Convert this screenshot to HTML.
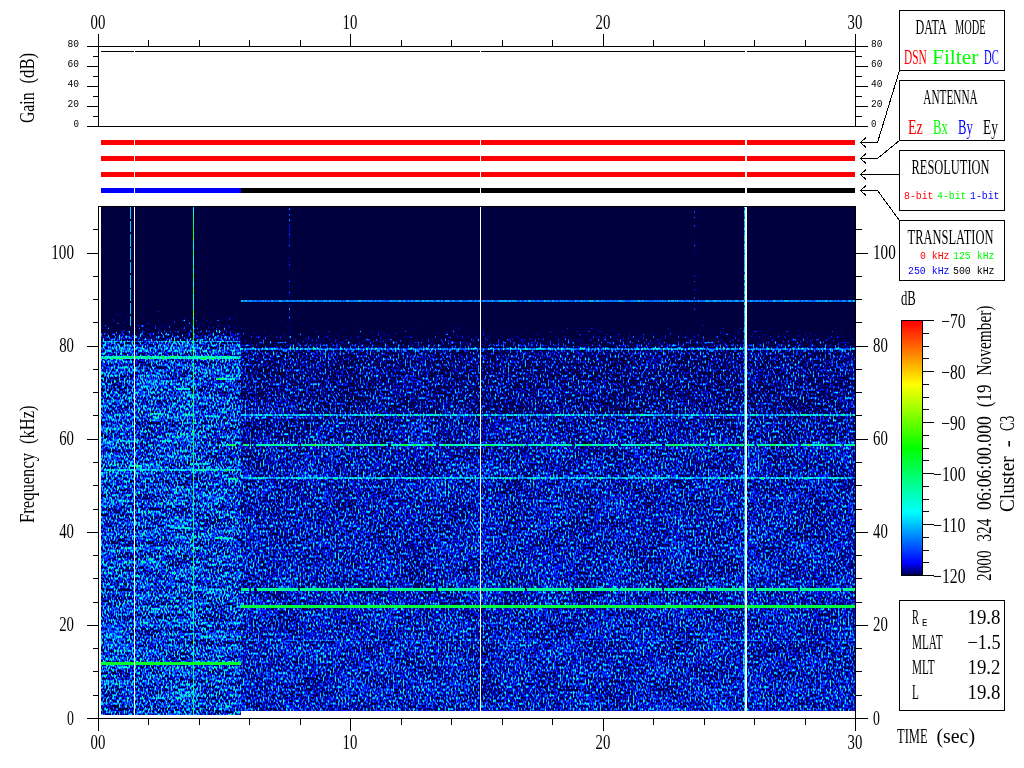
<!DOCTYPE html>
<html><head><meta charset="utf-8"><title>Cluster C3 WBD spectrogram</title>
<style>html,body{margin:0;padding:0;background:#fff}svg{display:block}.s{font-family:"Liberation Serif", serif;font-size:20px;fill:#000}.m{font-family:"Liberation Mono", monospace;font-size:10.5px;fill:#000}.r{fill:#f00}.g{fill:#0f0}.b{fill:#00f}</style></head><body>
<svg width="1024" height="768" viewBox="0 0 1024 768">
<defs>
<filter id="nl" x="0" y="0" width="1" height="1" color-interpolation-filters="sRGB">
<feTurbulence type="fractalNoise" baseFrequency="0.62 0.36" numOctaves="1" seed="7" result="n"/>
<feColorMatrix in="n" type="matrix" values="1 0 0 0 0  1 0 0 0 0  1 0 0 0 0  0 0 0 0 1" result="n1"/>
<feComponentTransfer in="n1" result="na"><feFuncR type="gamma" amplitude="1" exponent="2.5" offset="0"/><feFuncG type="gamma" amplitude="1" exponent="2.5" offset="0"/><feFuncB type="gamma" amplitude="1" exponent="2.5" offset="0"/></feComponentTransfer>
<feTurbulence type="fractalNoise" baseFrequency="0.03 0.15" numOctaves="2" seed="18" result="m"/>
<feColorMatrix in="m" type="matrix" values="0.22 0 0 0 0.09  0.22 0 0 0 0.09  0.22 0 0 0 0.09  0 0 0 0 1" result="nb"/>
<feComposite in="na" in2="nb" operator="arithmetic" k1="0" k2="1" k3="1" k4="0" result="nn"/>
<feComposite in="nn" in2="SourceGraphic" operator="arithmetic" k1="0" k2="1" k3="1" k4="-0.9268" result="v"/>
<feComponentTransfer in="v"><feFuncR type="table" tableValues="0.000 0.000 0.000 0.000 0.000 0.000 0.000 0.000 0.000 0.000 0.000 0.000 0.000 0.000 0.000 0.000 0.000 0.000 0.000 0.000 0.000 0.000 0.000 0.000 0.000 0.000 0.000 0.000 0.000 0.000 0.000 0.000 0.000 0.000 0.000 0.000 0.000 0.000 0.000 0.000 0.000 0.050 0.100 0.150 0.200 0.250 0.300 0.350 0.400 0.450 0.500 0.550 0.600 0.650 0.700 0.750 0.800 0.850 0.900 0.950 1.000 1.000 1.000 1.000 1.000 1.000 1.000 1.000 1.000 1.000 1.000 1.000 1.000 1.000 1.000 1.000 1.000 1.000 1.000 1.000 1.000"/><feFuncG type="table" tableValues="0.000 0.000 0.000 0.000 0.000 0.062 0.125 0.187 0.250 0.312 0.375 0.438 0.500 0.562 0.625 0.688 0.750 0.812 0.875 0.938 1.000 1.000 1.000 1.000 1.000 1.000 1.000 1.000 1.000 1.000 1.000 1.000 1.000 1.000 1.000 1.000 1.000 1.000 1.000 1.000 1.000 1.000 1.000 1.000 1.000 1.000 1.000 1.000 1.000 1.000 1.000 1.000 1.000 1.000 1.000 1.000 1.000 1.000 1.000 1.000 1.000 0.950 0.900 0.850 0.800 0.750 0.700 0.650 0.600 0.550 0.500 0.450 0.400 0.350 0.300 0.250 0.200 0.150 0.100 0.050 0.000"/><feFuncB type="table" tableValues="0.250 0.438 0.625 0.812 1.000 1.000 1.000 1.000 1.000 1.000 1.000 1.000 1.000 1.000 1.000 1.000 1.000 1.000 1.000 1.000 1.000 0.950 0.900 0.850 0.800 0.750 0.700 0.650 0.600 0.550 0.500 0.450 0.400 0.350 0.300 0.250 0.200 0.150 0.100 0.050 0.000 0.000 0.000 0.000 0.000 0.000 0.000 0.000 0.000 0.000 0.000 0.000 0.000 0.000 0.000 0.000 0.000 0.000 0.000 0.000 0.000 0.000 0.000 0.000 0.000 0.000 0.000 0.000 0.000 0.000 0.000 0.000 0.000 0.000 0.000 0.000 0.000 0.000 0.000 0.000 0.000"/></feComponentTransfer>
</filter>
<filter id="nr" x="0" y="0" width="1" height="1" color-interpolation-filters="sRGB">
<feTurbulence type="fractalNoise" baseFrequency="0.6 0.36" numOctaves="1" seed="3" result="n"/>
<feColorMatrix in="n" type="matrix" values="1 0 0 0 0  1 0 0 0 0  1 0 0 0 0  0 0 0 0 1" result="n1"/>
<feComponentTransfer in="n1" result="na"><feFuncR type="gamma" amplitude="0.78" exponent="2.5" offset="0"/><feFuncG type="gamma" amplitude="0.78" exponent="2.5" offset="0"/><feFuncB type="gamma" amplitude="0.78" exponent="2.5" offset="0"/></feComponentTransfer>
<feTurbulence type="fractalNoise" baseFrequency="0.03 0.05" numOctaves="2" seed="14" result="m"/>
<feColorMatrix in="m" type="matrix" values="0.1 0 0 0 0.15  0.1 0 0 0 0.15  0.1 0 0 0 0.15  0 0 0 0 1" result="nb"/>
<feComposite in="na" in2="nb" operator="arithmetic" k1="0" k2="1" k3="1" k4="0" result="nn"/>
<feComposite in="nn" in2="SourceGraphic" operator="arithmetic" k1="0" k2="1" k3="1" k4="-0.8879" result="v"/>
<feComponentTransfer in="v"><feFuncR type="table" tableValues="0.000 0.000 0.000 0.000 0.000 0.000 0.000 0.000 0.000 0.000 0.000 0.000 0.000 0.000 0.000 0.000 0.000 0.000 0.000 0.000 0.000 0.000 0.000 0.000 0.000 0.000 0.000 0.000 0.000 0.000 0.000 0.000 0.000 0.000 0.000 0.000 0.000 0.000 0.000 0.000 0.000 0.050 0.100 0.150 0.200 0.250 0.300 0.350 0.400 0.450 0.500 0.550 0.600 0.650 0.700 0.750 0.800 0.850 0.900 0.950 1.000 1.000 1.000 1.000 1.000 1.000 1.000 1.000 1.000 1.000 1.000 1.000 1.000 1.000 1.000 1.000 1.000 1.000 1.000 1.000 1.000"/><feFuncG type="table" tableValues="0.000 0.000 0.000 0.000 0.000 0.062 0.125 0.187 0.250 0.312 0.375 0.438 0.500 0.562 0.625 0.688 0.750 0.812 0.875 0.938 1.000 1.000 1.000 1.000 1.000 1.000 1.000 1.000 1.000 1.000 1.000 1.000 1.000 1.000 1.000 1.000 1.000 1.000 1.000 1.000 1.000 1.000 1.000 1.000 1.000 1.000 1.000 1.000 1.000 1.000 1.000 1.000 1.000 1.000 1.000 1.000 1.000 1.000 1.000 1.000 1.000 0.950 0.900 0.850 0.800 0.750 0.700 0.650 0.600 0.550 0.500 0.450 0.400 0.350 0.300 0.250 0.200 0.150 0.100 0.050 0.000"/><feFuncB type="table" tableValues="0.250 0.438 0.625 0.812 1.000 1.000 1.000 1.000 1.000 1.000 1.000 1.000 1.000 1.000 1.000 1.000 1.000 1.000 1.000 1.000 1.000 0.950 0.900 0.850 0.800 0.750 0.700 0.650 0.600 0.550 0.500 0.450 0.400 0.350 0.300 0.250 0.200 0.150 0.100 0.050 0.000 0.000 0.000 0.000 0.000 0.000 0.000 0.000 0.000 0.000 0.000 0.000 0.000 0.000 0.000 0.000 0.000 0.000 0.000 0.000 0.000 0.000 0.000 0.000 0.000 0.000 0.000 0.000 0.000 0.000 0.000 0.000 0.000 0.000 0.000 0.000 0.000 0.000 0.000 0.000 0.000"/></feComponentTransfer>
</filter>
<linearGradient id="gl" gradientUnits="userSpaceOnUse" x1="0" y1="300" x2="0" y2="344"><stop offset="0" stop-color="#171717"/><stop offset="1" stop-color="#a1a1a1"/></linearGradient>
<linearGradient id="gr" gradientUnits="userSpaceOnUse" x1="0" y1="314" x2="0" y2="349"><stop offset="0" stop-color="#303030"/><stop offset="1" stop-color="#8f8f8f"/></linearGradient>
<linearGradient id="gr2" gradientUnits="userSpaceOnUse" x1="0" y1="349" x2="0" y2="711"><stop offset="0.0000" stop-color="#8c8c8c"/><stop offset="0.1768" stop-color="#8f8f8f"/><stop offset="0.1878" stop-color="#949494"/><stop offset="0.3619" stop-color="#989898"/><stop offset="1.0000" stop-color="#9a9a9a"/></linearGradient>
<linearGradient id="cb" gradientUnits="userSpaceOnUse" x1="0" y1="576" x2="0" y2="321"><stop offset="0" stop-color="#000040"/><stop offset="0.025" stop-color="#00009f"/><stop offset="0.05" stop-color="#0000ff"/><stop offset="0.15" stop-color="#007fff"/><stop offset="0.25" stop-color="#00ffff"/><stop offset="0.375" stop-color="#00ff80"/><stop offset="0.5" stop-color="#00ff00"/><stop offset="0.625" stop-color="#80ff00"/><stop offset="0.75" stop-color="#ffff00"/><stop offset="0.875" stop-color="#ff8000"/><stop offset="1" stop-color="#ff0000"/></linearGradient>
</defs>
<g filter="url(#nl)">
<rect x="101" y="207" width="140" height="508" fill="#000000"/>
<rect x="101" y="300" width="140" height="44" fill="url(#gl)"/>
<rect x="101" y="344" width="140" height="371" fill="#a1a1a1"/>
<rect x="101" y="341" width="140" height="1" fill="#b8b8b8"/>
<rect x="101" y="356" width="140" height="3" fill="#d9d9d9"/>
<rect x="101" y="469" width="140" height="2" fill="#c2c2c2"/>
<rect x="193" y="207" width="1" height="280" fill="#e8e8e8"/>
<rect x="193" y="487" width="1" height="228" fill="#dbdbdb"/>
<rect x="216" y="378" width="18" height="2" fill="#d9d9d9"/>
<rect x="176" y="388" width="14" height="2" fill="#d9d9d9"/>
<rect x="150" y="413" width="14" height="2" fill="#c9c9c9"/>
<rect x="226" y="444" width="10" height="2" fill="#d9d9d9"/>
<rect x="120" y="440" width="20" height="2" fill="#bfbfbf"/>
<rect x="190" y="463" width="20" height="2" fill="#cccccc"/>
<rect x="170" y="527" width="20" height="2" fill="#c9c9c9"/>
<rect x="215" y="537" width="18" height="2" fill="#cfcfcf"/>
<rect x="130" y="465" width="12" height="2" fill="#cfcfcf"/>
<rect x="205" y="415" width="14" height="2" fill="#c4c4c4"/>
<rect x="160" y="440" width="12" height="2" fill="#c4c4c4"/>
<rect x="228" y="478" width="10" height="2" fill="#cfcfcf"/>
</g>
<g filter="url(#nr)">
<rect x="241" y="207" width="614" height="504" fill="#000000"/>
<rect x="241" y="314" width="614" height="35" fill="url(#gr)"/>
<rect x="241" y="349" width="614" height="362" fill="url(#gr2)"/>
<rect x="241" y="300" width="614" height="2" fill="#b0b0b0"/>
<rect x="241" y="348" width="614" height="2" fill="#b3b3b3"/>
<rect x="241" y="414" width="614" height="2" fill="#bfbfbf"/>
<rect x="241" y="477" width="614" height="2" fill="#bfbfbf"/>
<rect x="243" y="444" width="6" height="2" fill="#dedede"/>
<rect x="252" y="444" width="1" height="2" fill="#dedede"/>
<rect x="256" y="444" width="42" height="2" fill="#dedede"/>
<rect x="301" y="444" width="42" height="2" fill="#dedede"/>
<rect x="346" y="444" width="42" height="2" fill="#dedede"/>
<rect x="391" y="444" width="45" height="2" fill="#dedede"/>
<rect x="439" y="444" width="86" height="2" fill="#dedede"/>
<rect x="528" y="444" width="44" height="2" fill="#dedede"/>
<rect x="575" y="444" width="43" height="2" fill="#dedede"/>
<rect x="621" y="444" width="41" height="2" fill="#dedede"/>
<rect x="665" y="444" width="41" height="2" fill="#dedede"/>
<rect x="709" y="444" width="45" height="2" fill="#dedede"/>
<rect x="757" y="444" width="41" height="2" fill="#dedede"/>
<rect x="801" y="444" width="40" height="2" fill="#dedede"/>
<rect x="844" y="444" width="11" height="2" fill="#dedede"/>
<rect x="241" y="640" width="614" height="1" fill="#a6a6a6"/>
<rect x="289" y="207" width="1" height="140" fill="#919191"/>
<rect x="694" y="207" width="1" height="140" fill="#808080"/>
<rect x="744" y="207" width="1" height="504" fill="#bfbfbf"/>
</g>
<g shape-rendering="crispEdges">
<rect x="241" y="588" width="8" height="3" fill="#00ff8f"/>
<rect x="251" y="588" width="3" height="3" fill="#00ff8f"/>
<rect x="257" y="588" width="41" height="3" fill="#00ff8f"/>
<rect x="300" y="588" width="43" height="3" fill="#00ff8f"/>
<rect x="345" y="588" width="43" height="3" fill="#00ff8f"/>
<rect x="390" y="588" width="46" height="3" fill="#00ff8f"/>
<rect x="438" y="588" width="87" height="3" fill="#00ff8f"/>
<rect x="527" y="588" width="45" height="3" fill="#00ff8f"/>
<rect x="574" y="588" width="44" height="3" fill="#00ff8f"/>
<rect x="620" y="588" width="42" height="3" fill="#00ff8f"/>
<rect x="664" y="588" width="42" height="3" fill="#00ff8f"/>
<rect x="708" y="588" width="46" height="3" fill="#00ff8f"/>
<rect x="756" y="588" width="42" height="3" fill="#00ff8f"/>
<rect x="800" y="588" width="41" height="3" fill="#00ff8f"/>
<rect x="843" y="588" width="12" height="3" fill="#00ff8f"/>
<rect x="241" y="605" width="614" height="3" fill="#00ff3d"/>
<rect x="241" y="300" width="614" height="2" fill="#007fff" opacity="0.55"/>
<rect x="101" y="662" width="140" height="3" fill="#00ff29"/>
<path d="M130.5 207V326" stroke="#00ccff" stroke-width="1" stroke-dasharray="12 2 11 2 13 1"/>
<rect x="134" y="207" width="1" height="508" fill="#fff"/>
<rect x="480" y="207" width="1" height="504" fill="#fff"/>
<rect x="745" y="207" width="2" height="504" fill="#fff"/>
</g>
<g shape-rendering="crispEdges">
<rect x="101" y="140" width="754" height="5" fill="#f00"/>
<rect x="101" y="156" width="754" height="5" fill="#f00"/>
<rect x="101" y="172" width="754" height="5" fill="#f00"/>
<rect x="101" y="188" width="140" height="5" fill="#00f"/>
<rect x="241" y="188" width="614" height="5" fill="#000"/>
<rect x="101" y="51" width="754" height="1" fill="#000"/>
<rect x="134" y="50" width="1" height="144" fill="#fff"/>
<rect x="480" y="50" width="1" height="144" fill="#fff"/>
<rect x="745" y="50" width="2" height="144" fill="#fff"/>
</g>
<rect x="902" y="321" width="20" height="255" fill="url(#cb)" shape-rendering="crispEdges"/>
<path d="M98.5 34V126.5 M855.5 34V126.5 M87 46.5H868 M87 126.5H868 M98.5 34V46 M148.5 40V46 M199.5 40V46 M249.5 40V46 M300.5 40V46 M350.5 34V46 M401.5 40V46 M451.5 40V46 M502.5 40V46 M552.5 40V46 M603.5 34V46 M653.5 40V46 M704.5 40V46 M754.5 40V46 M805.5 40V46 M855.5 34V46 M87 46.5H98 M856 46.5H868 M93 56.5H98 M856 56.5H862 M87 66.5H98 M856 66.5H868 M93 76.5H98 M856 76.5H862 M87 86.5H98 M856 86.5H868 M93 96.5H98 M856 96.5H862 M87 106.5H98 M856 106.5H868 M93 116.5H98 M856 116.5H862 M87 126.5H98 M856 126.5H868 M98.5 206V731 M855.5 206V731 M87 718.5H868 M98 206.5H856 M98.5 719V731 M148.5 719V725 M199.5 719V725 M249.5 719V725 M300.5 719V725 M350.5 719V731 M401.5 719V725 M451.5 719V725 M502.5 719V725 M552.5 719V725 M603.5 719V731 M653.5 719V725 M704.5 719V725 M754.5 719V725 M805.5 719V725 M855.5 719V731 M87 718.5H98 M856 718.5H868 M93 695.5H98 M856 695.5H862 M93 671.5H98 M856 671.5H862 M93 648.5H98 M856 648.5H862 M87 625.5H98 M856 625.5H868 M93 602.5H98 M856 602.5H862 M93 578.5H98 M856 578.5H862 M93 555.5H98 M856 555.5H862 M87 532.5H98 M856 532.5H868 M93 509.5H98 M856 509.5H862 M93 485.5H98 M856 485.5H862 M93 462.5H98 M856 462.5H862 M87 439.5H98 M856 439.5H868 M93 415.5H98 M856 415.5H862 M93 392.5H98 M856 392.5H862 M93 369.5H98 M856 369.5H862 M87 346.5H98 M856 346.5H868 M93 322.5H98 M856 322.5H862 M93 299.5H98 M856 299.5H862 M93 276.5H98 M856 276.5H862 M87 253.5H98 M856 253.5H868 M93 229.5H98 M856 229.5H862 M901.5 320V576 M922.5 320V576 M901 320.5H934 M901 575.5H934 M923 320.5H934 M923 333.5H929 M923 346.5H929 M923 358.5H929 M923 371.5H934 M923 384.5H929 M923 397.5H929 M923 409.5H929 M923 422.5H934 M923 435.5H929 M923 448.5H929 M923 460.5H929 M923 473.5H934 M923 486.5H929 M923 499.5H929 M923 511.5H929 M923 524.5H934 M923 537.5H929 M923 550.5H929 M923 562.5H929 M923 575.5H934 M899.5 10.5H1004.5V70.5H899.5Z M899.5 80.5H1004.5V140.5H899.5Z M899.5 150.5H1004.5V210.5H899.5Z M899.5 220.5H1004.5V280.5H899.5Z M899.5 600.5H1004.5V710.5H899.5Z" fill="none" stroke="#000" stroke-width="1" shape-rendering="crispEdges"/>
<path d="M866 137.5L860.5 142.5L866 147.5 M860.5 142.5H877.5 M866 153.5L860.5 158.5L866 163.5 M860.5 158.5H877.5 M866 169.5L860.5 174.5L866 179.5 M860.5 174.5H877.5 M866 185.5L860.5 190.5L866 195.5 M860.5 190.5H877.5 M877.5 142.5L899.5 70.5 M877.5 158.5L899.5 140.5 M877.5 174.5H899.5 M877.5 190.5L899.5 220.5" fill="none" stroke="#000" stroke-width="1" shape-rendering="crispEdges"/>
<text y="29" class="s"><tspan x="90.6" textLength="14.8" lengthAdjust="spacingAndGlyphs">00</tspan></text>
<text y="749" class="s"><tspan x="90.6" textLength="14.8" lengthAdjust="spacingAndGlyphs">00</tspan></text>
<text y="29" class="s"><tspan x="342.6" textLength="14.8" lengthAdjust="spacingAndGlyphs">10</tspan></text>
<text y="749" class="s"><tspan x="342.6" textLength="14.8" lengthAdjust="spacingAndGlyphs">10</tspan></text>
<text y="29" class="s"><tspan x="595.6" textLength="14.8" lengthAdjust="spacingAndGlyphs">20</tspan></text>
<text y="749" class="s"><tspan x="595.6" textLength="14.8" lengthAdjust="spacingAndGlyphs">20</tspan></text>
<text y="29" class="s"><tspan x="847.6" textLength="14.8" lengthAdjust="spacingAndGlyphs">30</tspan></text>
<text y="749" class="s"><tspan x="847.6" textLength="14.8" lengthAdjust="spacingAndGlyphs">30</tspan></text>
<text x="67.5" y="47" class="m" textLength="11.5" lengthAdjust="spacingAndGlyphs">80</text>
<text x="871" y="47" class="m" textLength="11.5" lengthAdjust="spacingAndGlyphs">80</text>
<text x="67.5" y="67" class="m" textLength="11.5" lengthAdjust="spacingAndGlyphs">60</text>
<text x="871" y="67" class="m" textLength="11.5" lengthAdjust="spacingAndGlyphs">60</text>
<text x="67.5" y="87" class="m" textLength="11.5" lengthAdjust="spacingAndGlyphs">40</text>
<text x="871" y="87" class="m" textLength="11.5" lengthAdjust="spacingAndGlyphs">40</text>
<text x="67.5" y="107" class="m" textLength="11.5" lengthAdjust="spacingAndGlyphs">20</text>
<text x="871" y="107" class="m" textLength="11.5" lengthAdjust="spacingAndGlyphs">20</text>
<text x="73.5" y="127" class="m" textLength="5.5" lengthAdjust="spacingAndGlyphs">0</text>
<text x="871" y="127" class="m" textLength="5.5" lengthAdjust="spacingAndGlyphs">0</text>
<text y="724.5" class="s"><tspan x="67.1" textLength="6.9" lengthAdjust="spacingAndGlyphs">0</tspan></text>
<text y="724.5" class="s"><tspan x="873" textLength="6.9" lengthAdjust="spacingAndGlyphs">0</tspan></text>
<text y="630.5" class="s"><tspan x="59.2" textLength="14.8" lengthAdjust="spacingAndGlyphs">20</tspan></text>
<text y="630.5" class="s"><tspan x="873" textLength="14.8" lengthAdjust="spacingAndGlyphs">20</tspan></text>
<text y="537.5" class="s"><tspan x="59.2" textLength="14.8" lengthAdjust="spacingAndGlyphs">40</tspan></text>
<text y="537.5" class="s"><tspan x="873" textLength="14.8" lengthAdjust="spacingAndGlyphs">40</tspan></text>
<text y="444.5" class="s"><tspan x="59.2" textLength="14.8" lengthAdjust="spacingAndGlyphs">60</tspan></text>
<text y="444.5" class="s"><tspan x="873" textLength="14.8" lengthAdjust="spacingAndGlyphs">60</tspan></text>
<text y="351.5" class="s"><tspan x="59.2" textLength="14.8" lengthAdjust="spacingAndGlyphs">80</tspan></text>
<text y="351.5" class="s"><tspan x="873" textLength="14.8" lengthAdjust="spacingAndGlyphs">80</tspan></text>
<text y="258.5" class="s"><tspan x="51.3" textLength="22.7" lengthAdjust="spacingAndGlyphs">100</tspan></text>
<text y="258.5" class="s"><tspan x="873" textLength="22.7" lengthAdjust="spacingAndGlyphs">100</tspan></text>
<text transform="translate(34 123) rotate(-90)" y="0" class="s"><tspan x="0" textLength="30.6" lengthAdjust="spacingAndGlyphs">Gain</tspan> <tspan x="39.5" textLength="30.6" lengthAdjust="spacingAndGlyphs">(dB)</tspan></text>
<text transform="translate(34 523) rotate(-90)" y="0" class="s"><tspan x="0" textLength="70.1" lengthAdjust="spacingAndGlyphs">Frequency</tspan> <tspan x="79" textLength="38.5" lengthAdjust="spacingAndGlyphs">(kHz)</tspan></text>
<text transform="translate(991 581) rotate(-90)" y="0" class="s"><tspan x="0" textLength="30.6" lengthAdjust="spacingAndGlyphs">2000</tspan> <tspan x="39.5" textLength="22.7" lengthAdjust="spacingAndGlyphs">324</tspan> <tspan x="71.1" textLength="93.8" lengthAdjust="spacingAndGlyphs">06:06:00.000</tspan> <tspan x="173.8" textLength="22.7" lengthAdjust="spacingAndGlyphs">(19</tspan> <tspan x="205.4" textLength="70.1" lengthAdjust="spacingAndGlyphs">November)</tspan></text>
<text transform="translate(1014 512) rotate(-90)" y="0" class="s"><tspan x="0" textLength="55.7" lengthAdjust="spacingAndGlyphs">Cluster</tspan> <tspan x="64.8" textLength="7.1" lengthAdjust="spacingAndGlyphs">-</tspan> <tspan x="81" textLength="15.2" lengthAdjust="spacingAndGlyphs">C3</tspan></text>
<text y="34" class="s"><tspan x="915.45" textLength="30.6" lengthAdjust="spacingAndGlyphs">DATA</tspan> <tspan x="954.95" textLength="30.6" lengthAdjust="spacingAndGlyphs">MODE</tspan></text>
<text y="104" class="s"><tspan x="923.35" textLength="54.3" lengthAdjust="spacingAndGlyphs">ANTENNA</tspan></text>
<text y="174" class="s"><tspan x="911.5" textLength="78" lengthAdjust="spacingAndGlyphs">RESOLUTION</tspan></text>
<text y="244" class="s"><tspan x="907.55" textLength="85.9" lengthAdjust="spacingAndGlyphs">TRANSLATION</tspan></text>
<text y="64" class="s r"><tspan x="904" textLength="22.7" lengthAdjust="spacingAndGlyphs">DSN</tspan></text>
<text y="64" class="s g"><tspan x="932" textLength="46.4" lengthAdjust="spacingAndGlyphs">Filter</tspan></text>
<text y="64" class="s b"><tspan x="984" textLength="14.8" lengthAdjust="spacingAndGlyphs">DC</tspan></text>
<text y="134" class="s r"><tspan x="908" textLength="14.8" lengthAdjust="spacingAndGlyphs">Ez</tspan></text>
<text y="134" class="s g"><tspan x="933" textLength="14.8" lengthAdjust="spacingAndGlyphs">Bx</tspan></text>
<text y="134" class="s b"><tspan x="958" textLength="14.8" lengthAdjust="spacingAndGlyphs">By</tspan></text>
<text y="134" class="s"><tspan x="983" textLength="14.8" lengthAdjust="spacingAndGlyphs">Ey</tspan></text>
<text x="904" y="199" class="m r" textLength="29.5" lengthAdjust="spacingAndGlyphs">8-bit</text>
<text x="937" y="199" class="m g" textLength="29.5" lengthAdjust="spacingAndGlyphs">4-bit</text>
<text x="970" y="199" class="m b" textLength="29.5" lengthAdjust="spacingAndGlyphs">1-bit</text>
<text x="920" y="259" class="m r" textLength="29.5" lengthAdjust="spacingAndGlyphs">0 kHz</text>
<text x="953" y="259" class="m g" textLength="41.5" lengthAdjust="spacingAndGlyphs">125 kHz</text>
<text x="908" y="274" class="m b" textLength="41.5" lengthAdjust="spacingAndGlyphs">250 kHz</text>
<text x="953" y="274" class="m" textLength="41.5" lengthAdjust="spacingAndGlyphs">500 kHz</text>
<text y="305" class="s"><tspan x="901" textLength="14.8" lengthAdjust="spacingAndGlyphs">dB</tspan></text>
<text y="328" class="s"><tspan x="941.2" textLength="24.3" lengthAdjust="spacingAndGlyphs">−70</tspan></text>
<text y="379" class="s"><tspan x="941.2" textLength="24.3" lengthAdjust="spacingAndGlyphs">−80</tspan></text>
<text y="430" class="s"><tspan x="941.2" textLength="24.3" lengthAdjust="spacingAndGlyphs">−90</tspan></text>
<text y="481" class="s"><tspan x="933.1" textLength="32.4" lengthAdjust="spacingAndGlyphs">−100</tspan></text>
<text y="532" class="s"><tspan x="933.1" textLength="32.4" lengthAdjust="spacingAndGlyphs">−110</tspan></text>
<text y="583" class="s"><tspan x="933.1" textLength="32.4" lengthAdjust="spacingAndGlyphs">−120</tspan></text>
<text y="624" class="s"><tspan x="912" textLength="6.9" lengthAdjust="spacingAndGlyphs">R</tspan></text>
<text x="922" y="626" class="m" textLength="5.5" lengthAdjust="spacingAndGlyphs">E</text>
<text y="624" class="s"><tspan x="967.5" textLength="33" lengthAdjust="spacingAndGlyphs">19.8</tspan></text>
<text y="649" class="s"><tspan x="912" textLength="30.6" lengthAdjust="spacingAndGlyphs">MLAT</tspan></text>
<text y="649" class="s"><tspan x="967.5" textLength="33" lengthAdjust="spacingAndGlyphs">−1.5</tspan></text>
<text y="674" class="s"><tspan x="912" textLength="22.7" lengthAdjust="spacingAndGlyphs">MLT</tspan></text>
<text y="674" class="s"><tspan x="967.5" textLength="33" lengthAdjust="spacingAndGlyphs">19.2</tspan></text>
<text y="699" class="s"><tspan x="912" textLength="6.9" lengthAdjust="spacingAndGlyphs">L</tspan></text>
<text y="699" class="s"><tspan x="967.5" textLength="33" lengthAdjust="spacingAndGlyphs">19.8</tspan></text>
<text y="743" class="s"><tspan x="897" textLength="30.6" lengthAdjust="spacingAndGlyphs">TIME</tspan> <tspan x="936.5" textLength="38.5" lengthAdjust="spacingAndGlyphs">(sec)</tspan></text>
</svg></body></html>
